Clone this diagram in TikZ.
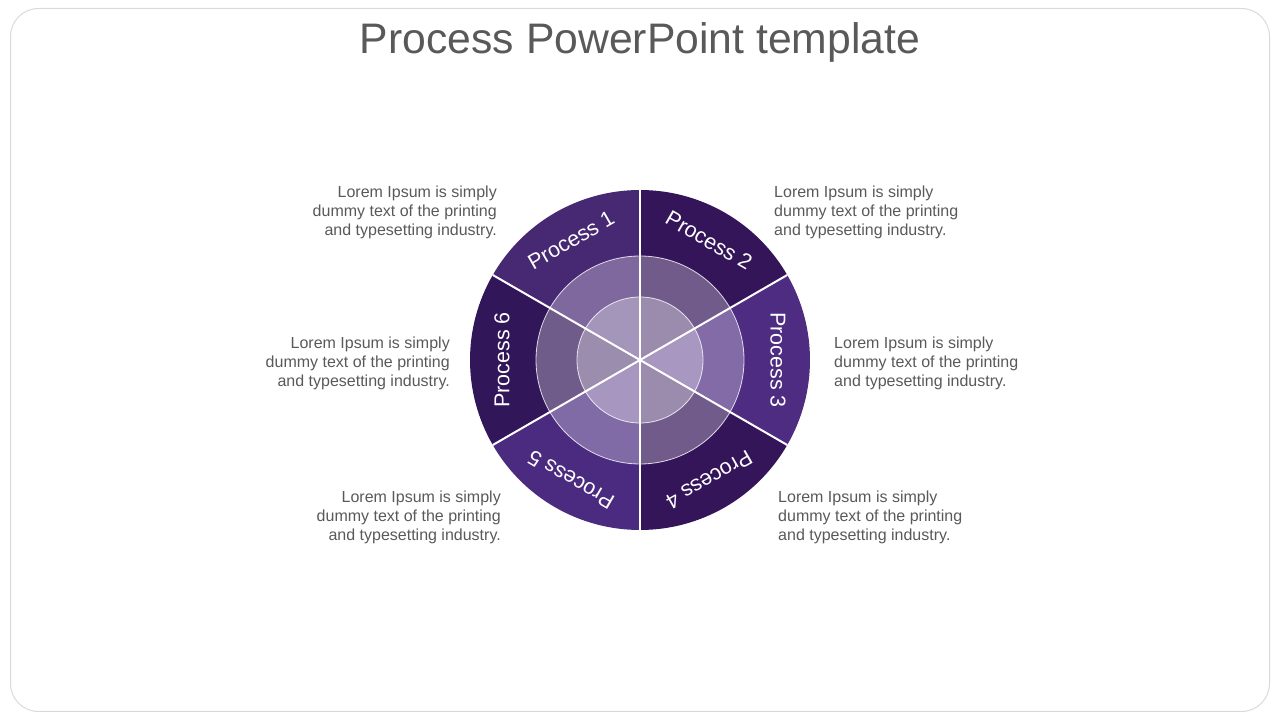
\documentclass[tikz,border=0pt]{standalone}
\usepackage{fontspec}
\setmainfont{Liberation Sans}
\usetikzlibrary{calc}
\definecolor{framegray}{HTML}{D9D9D9}
\definecolor{textgray}{HTML}{595959}
\definecolor{purpA}{HTML}{472873}
\definecolor{purpB}{HTML}{35155A}
\definecolor{purpC}{HTML}{4D2C82}
\definecolor{purpD}{HTML}{34155A}
\definecolor{purpE}{HTML}{4B2B80}
\definecolor{purpF}{HTML}{32165A}
\tikzset{
  desc/.style={text=textgray, font=\fontsize{16}{19}\selectfont, inner sep=0pt},
  seglabel/.style={text=white, font=\fontsize{21.5}{24}\selectfont, inner sep=0pt},
  ringfill/.style={fill=white, fill opacity=0.3},
}
\begin{document}
\begin{tikzpicture}[x=1pt, y=1pt]
\useasboundingbox (0,0) rectangle (1280,720);
\draw[framegray, line width=1pt, rounded corners=28pt] (10.5,8.5) rectangle (1269.5,711.5);
\node[text=textgray, font=\fontsize{42.7}{48}\selectfont] (title) at (640,678) {Process PowerPoint template};
\coordinate (O) at (640,360);
% outer ring, one sector per step
\foreach \a/\c in {90/purpA, 30/purpB, -30/purpC, -90/purpD, -150/purpE, 150/purpF}
  \fill[\c] (O) -- ++(\a:170) arc[start angle=\a, end angle=\a+60, radius=170] -- cycle;
% middle and inner rings
\fill[ringfill] (O) circle (104); \draw[white, line width=0.8pt, opacity=0.8] (O) circle (104);
\fill[ringfill] (O) circle (63); \draw[white, line width=0.8pt, opacity=0.8] (O) circle (63);
\foreach \a in {30,90,...,330} \draw[white, line width=2pt] (O) -- ++(\a:170);
% sector labels
\foreach \i/\a in {1/120, 2/60, 3/0, 4/-60, 5/-120, 6/180}
  \node[seglabel, rotate=\a-90] (p\i) at ($(O)+(\a:138)$) {Process \i};
% descriptions
\node[desc, anchor=east, align=right] (t1) at (497,508) {Lorem Ipsum is simply\\dummy text of the printing\\and typesetting industry.};
\node[desc, anchor=west, align=left] (t2) at (774,508) {Lorem Ipsum is simply\\dummy text of the printing\\and typesetting industry.};
\node[desc, anchor=west, align=left] (t3) at (834,357) {Lorem Ipsum is simply\\dummy text of the printing\\and typesetting industry.};
\node[desc, anchor=west, align=left] (t4) at (778,203) {Lorem Ipsum is simply\\dummy text of the printing\\and typesetting industry.};
\node[desc, anchor=east, align=right] (t5) at (501,203) {Lorem Ipsum is simply\\dummy text of the printing\\and typesetting industry.};
\node[desc, anchor=east, align=right] (t6) at (450,357) {Lorem Ipsum is simply\\dummy text of the printing\\and typesetting industry.};
\end{tikzpicture}
\end{document}
